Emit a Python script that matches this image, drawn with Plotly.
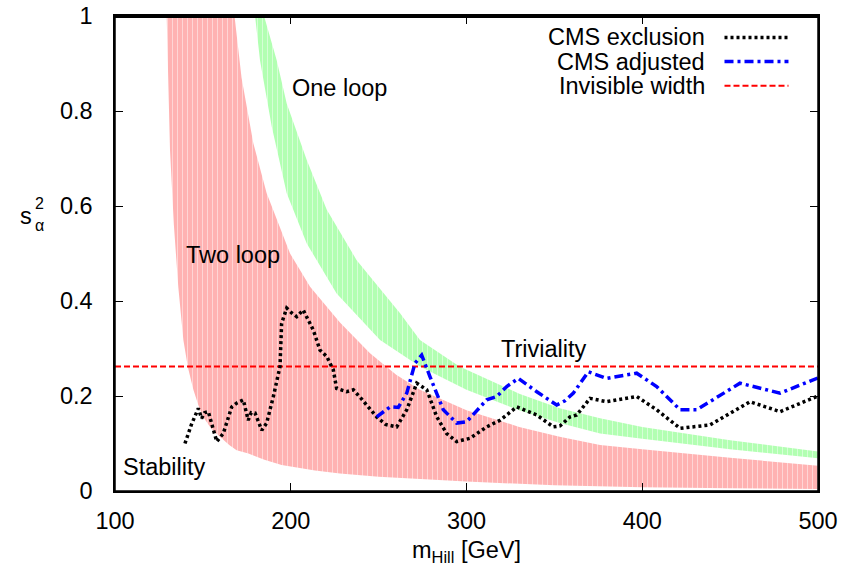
import plotly.graph_objects as go

# ---------------- data ----------------
red_lower_x = [129.4, 131.3, 133.5, 136.0, 138.9, 141.5, 144.6, 147.5, 150.2, 155.0, 159.7, 165.0, 169.2, 175.9, 185.0, 194.8, 213.8, 228.0, 250.0, 300.0, 350.0, 400.0, 450.0, 500.0]
red_lower_y = [1.0, 0.718, 0.56, 0.43, 0.318, 0.26, 0.213, 0.18, 0.156, 0.13, 0.114, 0.097, 0.086, 0.079, 0.066, 0.055, 0.043, 0.037, 0.030, 0.020, 0.012, 0.008, 0.006, 0.004]
red_upper_x = [168.0, 172.0, 178.7, 186.3, 199.6, 211.0, 228.0, 245.1, 260.0, 273.5, 300.0, 330.0, 353.0, 376.0, 400.0, 450.0, 500.0]
red_upper_y = [1.0, 0.87, 0.732, 0.627, 0.5, 0.43, 0.355, 0.29, 0.245, 0.213, 0.17, 0.135, 0.114, 0.097, 0.088, 0.07, 0.053]

green_lower_x = [179.7, 182.5, 189.2, 197.7, 209.1, 226.1, 250.8, 273.5, 300.0, 330.0, 353.0, 376.0, 400.0, 450.0, 500.0]
green_lower_y = [1.0, 0.907, 0.767, 0.627, 0.521, 0.416, 0.318, 0.262, 0.213, 0.17, 0.143, 0.121, 0.11, 0.088, 0.069]
green_upper_x = [184.8, 192.0, 197.7, 209.1, 220.5, 237.5, 262.2, 273.5, 296.0, 330.0, 353.0, 376.0, 400.0, 450.0, 500.0]
green_upper_y = [1.0, 0.907, 0.816, 0.697, 0.592, 0.486, 0.374, 0.318, 0.262, 0.205, 0.174, 0.153, 0.135, 0.107, 0.083]

cms_excl_x = [139.8, 143.5, 147.4, 149.3, 151.0, 153.1, 157.9, 161.6, 166.4, 169.2, 173.0, 175.8, 177.5, 179.7, 183.5, 186.3, 190.1, 193.9, 194.8, 197.7, 200.5, 203.4, 207.1, 212.8, 216.6, 220.5, 224.2, 226.1, 231.8, 235.6, 240.0, 245.1, 248.9, 254.0, 260.3, 266.0, 271.7, 277.4, 283.1, 288.7, 294.4, 302.0, 311.5, 319.1, 328.6, 340.0, 349.4, 353.2, 358.9, 362.7, 370.3, 379.8, 396.8, 408.2, 421.5, 438.6, 461.3, 478.4, 500.0]
cms_excl_y = [0.100, 0.140, 0.174, 0.153, 0.165, 0.167, 0.104, 0.121, 0.177, 0.185, 0.192, 0.149, 0.165, 0.164, 0.128, 0.143, 0.199, 0.262, 0.353, 0.385, 0.375, 0.367, 0.381, 0.339, 0.297, 0.283, 0.255, 0.216, 0.209, 0.213, 0.195, 0.174, 0.156, 0.140, 0.135, 0.171, 0.227, 0.213, 0.156, 0.121, 0.104, 0.111, 0.135, 0.149, 0.177, 0.160, 0.135, 0.137, 0.156, 0.160, 0.195, 0.188, 0.199, 0.171, 0.132, 0.139, 0.188, 0.167, 0.200]

cms_adj_x = [248.9, 256.5, 261.2, 266.0, 270.7, 274.5, 279.2, 286.8, 294.4, 300.1, 311.5, 317.2, 322.9, 329.5, 340.0, 351.3, 356.0, 360.8, 369.3, 379.8, 396.8, 408.2, 421.5, 431.0, 455.6, 467.0, 478.4, 500.0]
cms_adj_y = [0.156, 0.177, 0.176, 0.206, 0.269, 0.286, 0.241, 0.171, 0.143, 0.146, 0.192, 0.199, 0.220, 0.237, 0.209, 0.181, 0.190, 0.206, 0.251, 0.237, 0.248, 0.220, 0.171, 0.171, 0.227, 0.216, 0.206, 0.238]

invisible_width = 0.262
x_range = [100, 500]

x_ticks = [100, 200, 300, 400, 500]
y_ticks = [0, 0.2, 0.4, 0.6, 0.8, 1]
y_tick_labels = ["0", "0.2", "0.4", "0.6", "0.8", "1"]

legend_names = ["CMS exclusion", "CMS adjusted", "Invisible width"]

# ---------------- styles ----------------
FONT = "Liberation Sans, Arial, Helvetica, sans-serif"
FS = 23.5
RED_FILL = "rgb(255,178,178)"
GREEN_FILL = "rgb(178,255,178)"
STRIPE = "rgba(255,255,255,0.45)"
BLACK_DASH = "3px,3px"
BLUE_DASH = "9px,4px,3px,4px"
RED_DASH = "6px,3px"

fig = go.Figure()

# Two-loop band
fig.add_trace(go.Scatter(
    x=red_lower_x + red_upper_x[::-1],
    y=red_lower_y + red_upper_y[::-1],
    fill="toself", fillcolor=RED_FILL, mode="none", hoverinfo="skip", showlegend=False,
    fillpattern=dict(shape="|", bgcolor=RED_FILL, fgcolor=STRIPE, size=5,
                     solidity=0.2, fillmode="replace")))

# One-loop band
fig.add_trace(go.Scatter(
    x=green_lower_x + green_upper_x[::-1],
    y=green_lower_y + green_upper_y[::-1],
    fill="toself", fillcolor=GREEN_FILL, mode="none", hoverinfo="skip", showlegend=False,
    fillpattern=dict(shape="|", bgcolor=GREEN_FILL, fgcolor=STRIPE, size=5,
                     solidity=0.2, fillmode="replace")))

# Invisible width
fig.add_trace(go.Scatter(
    x=x_range, y=[invisible_width, invisible_width], mode="lines",
    line=dict(color="rgb(255,0,0)", width=2, dash=RED_DASH), showlegend=False))

# CMS exclusion
fig.add_trace(go.Scatter(
    x=cms_excl_x, y=cms_excl_y, mode="lines",
    line=dict(color="black", width=3.5, dash=BLACK_DASH), showlegend=False))

# CMS adjusted
fig.add_trace(go.Scatter(
    x=cms_adj_x, y=cms_adj_y, mode="lines",
    line=dict(color="rgb(0,0,255)", width=3.5, dash=BLUE_DASH), showlegend=False))

annotations = []
# region labels
for txt, xx, yy in [("One loop", 227.5, 0.848), ("Two loop", 167.1, 0.497),
                    ("Triviality", 344.1, 0.299), ("Stability", 128.2, 0.0505)]:
    annotations.append(dict(x=xx, y=yy, xref="x", yref="y", text=txt, showarrow=False,
                            xanchor="center", yanchor="middle",
                            font=dict(family=FONT, size=FS, color="black")))

# custom legend (text right-aligned, sample to the right)
leg_y = [0.955, 0.904, 0.853]
leg_colors = ["black", "rgb(0,0,255)", "rgb(255,0,0)"]
leg_dash = [BLACK_DASH, BLUE_DASH, RED_DASH]
leg_width = [3.5, 3.5, 2]
shapes = [dict(type="rect", xref="paper", yref="paper", x0=0, x1=1, y0=0, y1=1,
               line=dict(color="black", width=1.5), fillcolor="rgba(0,0,0,0)",
               layer="above"),
          dict(type="line", xref="paper", yref="paper", x0=0, x1=1, y0=0.998, y1=0.998,
               line=dict(color="black", width=2), layer="above")]
for name, ly, c, d, w in zip(legend_names, leg_y, leg_colors, leg_dash, leg_width):
    annotations.append(dict(x=0.842, y=ly, xref="paper", yref="paper", text=name,
                            showarrow=False, xanchor="right", yanchor="middle",
                            font=dict(family=FONT, size=FS, color="black")))
    shapes.append(dict(type="line", xref="paper", yref="paper", x0=0.867, x1=0.958,
                       y0=ly, y1=ly, line=dict(color=c, width=w, dash=d)))

# axis titles
annotations.append(dict(x=0.5, y=-0.128, xref="paper", yref="paper",
                        text="m<sub>Hill</sub> [GeV]", showarrow=False,
                        xanchor="center", yanchor="middle",
                        font=dict(family=FONT, size=FS, color="black")))
annotations.append(dict(x=-0.127, y=0.578, xref="paper", yref="paper", text="s",
                        showarrow=False, xanchor="center", yanchor="middle",
                        font=dict(family=FONT, size=FS, color="black")))
annotations.append(dict(x=-0.108, y=0.605, xref="paper", yref="paper", text="2",
                        showarrow=False, xanchor="center", yanchor="middle",
                        font=dict(family=FONT, size=16, color="black")))
annotations.append(dict(x=-0.107, y=0.558, xref="paper", yref="paper", text="α",
                        showarrow=False, xanchor="center", yanchor="middle",
                        font=dict(family=FONT, size=16, color="black")))

axis_common = dict(showline=True, linecolor="black", linewidth=1.5, mirror="ticks",
                   ticks="inside", ticklen=8, tickwidth=1, tickcolor="black",
                   showgrid=False, zeroline=False, automargin=False,
                   ticklabeloverflow="allow",
                   tickfont=dict(family=FONT, size=FS, color="black"))

fig.update_layout(
    width=842, height=565,
    margin=dict(l=115, r=24, t=16, b=74, autoexpand=False),
    paper_bgcolor="white", plot_bgcolor="white",
    showlegend=False,
    xaxis=dict(range=x_range, tickvals=x_ticks, ticklabelstandoff=8, **axis_common),
    yaxis=dict(range=[0, 1], tickvals=y_ticks, ticktext=y_tick_labels,
               ticklabelstandoff=16, **axis_common),
    annotations=annotations, shapes=shapes,
)

# remove the default 8px page margin so the figure sits at the window's corner
fig.write_html("out.html", config={"displayModeBar": False},
               post_script="document.body.style.margin='0';")
